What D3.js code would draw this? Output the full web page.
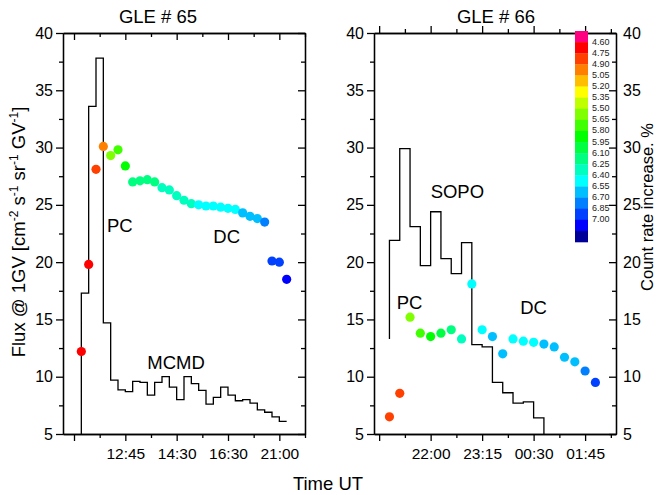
<!DOCTYPE html>
<html>
<head>
<meta charset="utf-8">
<script src="https://cdn.jsdelivr.net/npm/d3@7"></script>
<style>
body { margin: 0; background: #fff; }
svg text { font-family: "Liberation Sans", Arial, sans-serif; }
</style>
</head>
<body>
<div id="chart-area"></div>
<script>
// GLE 65 - points (flux @ 1GV) and MCMD histogram
const gle65Flux = [12.2, 19.8, 28.1, 30.1, 29.3, 29.8, 28.4, 27.0, 27.1, 27.2, 27.0, 26.5, 26.3, 25.8, 25.4,
  25.1, 25.0, 24.9, 24.9, 24.8, 24.7, 24.6, 24.3, 24.0, 23.8, 23.5, 20.1, 20.0, 18.5];
const gle65Rate = [4.7, 4.7, 4.8, 5.0, 5.6, 5.7, 5.9, 6.2, 6.2, 6.2, 6.2, 6.3, 6.3, 6.3, 6.3,
  6.3, 6.5, 6.5, 6.5, 6.5, 6.5, 6.5, 6.6, 6.6, 6.6, 6.8, 6.9, 6.9, 7.1];
const gle65Mcmd = [17.3, 33.6, 37.8, 14.7, 9.7, 8.85, 8.7, 9.6, 9.5, 8.4, 9.5, 10.0, 9.1, 8.0, 10.0,
  9.4, 8.8, 7.6, 8.2, 9.1, 8.4, 7.9, 8.0, 7.7, 7.1, 6.9, 6.5, 6.1];
const gle65Ticks = [-1, 6, 13, 20, 27];
const gle65TickLabels = ["", "12:45", "14:30", "16:30", "21:00"];

// GLE 66 - points and SOPO histogram
const gle66Flux = [6.5, 8.55, 15.2, 13.8, 13.5, 13.8, 14.1, 13.3, 18.1, 14.1, 13.5, 12.0, 13.3, 13.1,
  13.0, 12.85, 12.6, 11.7, 11.3, 10.5, 9.5];
const gle66Rate = [4.8, 4.8, 5.6, 5.7, 5.9, 6.0, 6.2, 6.3, 6.5, 6.5, 6.6, 6.6, 6.5, 6.5,
  6.5, 6.6, 6.6, 6.6, 6.6, 6.75, 6.9];
const gle66SopoStart = 13.3;
const gle66Sopo = [21.9, 29.9, 23.1, 19.7, 24.4, 20.3, 19.0, 21.7, 12.8, 12.6, 9.5, 8.6, 7.7, 7.8, 6.4];
const gle66Ticks = [-1, 4, 9, 14, 19];
const gle66TickLabels = ["", "22:00", "23:15", "00:30", "01:45"];

const yTicks = [5, 10, 15, 20, 25, 30, 35, 40];

// colour scale of count rate increase
const rateBreaks = [4.60, 4.75, 4.90, 5.05, 5.20, 5.35, 5.50, 5.65, 5.80, 5.95, 6.10, 6.25, 6.40,
  6.55, 6.70, 6.85, 7.00, 7.15];
const rateColors = ["#ff0080", "#ff0000", "#ff4000", "#ff8000", "#ffbf00", "#ffff00", "#bfff00", "#80ff00",
  "#40ff00", "#00ff00", "#00ff40", "#00ff80", "#00ffbf", "#00ffff", "#00bfff", "#0080ff", "#0040ff",
  "#0000ff", "#000099"];
const rateLabels = rateBreaks.slice(0, 17);

const width = 657, height = 495;
const yTop = 33, yBot = 434;

const svg = d3.select("#chart-area")
  .append("svg")
  .attr("width", width)
  .attr("height", height);

const y = d3.scaleLinear().domain([5, 40]).range([yBot, yTop]);
const colour = d3.scaleThreshold().domain(rateBreaks).range(rateColors);
const yMinor = yTicks.slice(0, -1).map(d => d + 2.5);

function styleAxis(sel, fs) {
  sel.selectAll("path, line").attr("stroke", "#000").attr("stroke-width", 1.3);
  sel.selectAll("text").attr("font-size", fs).attr("fill", "#000");
}

function panel(cfg) {
  const x = d3.scaleLinear().domain(cfg.domain).range([cfg.left, cfg.right]);
  const g = svg.append("g");
  const minor = cfg.ticks.map(d => d + cfg.step / 2);

  // histogram (step line)
  const line = d3.line().x(d => x(d.i)).y(d => y(d.v)).curve(d3.curveStepAfter);
  g.append("path")
    .attr("fill", "none")
    .attr("stroke", "#000")
    .attr("stroke-width", 1.3)
    .attr("d", line(cfg.steps));

  // points
  g.selectAll("circle")
    .data(cfg.flux)
    .enter()
    .append("circle")
    .attr("cx", (d, i) => x(i))
    .attr("cy", d => y(d))
    .attr("r", 4.6)
    .attr("fill", (d, i) => colour(cfg.rate[i]));

  // bottom axis
  g.append("g").attr("transform", "translate(0," + yBot + ")")
    .call(d3.axisBottom(x).tickValues(cfg.ticks).tickFormat((d, i) => cfg.labels[i])
      .tickSize(7).tickPadding(7).tickSizeOuter(0))
    .call(styleAxis, 15.5);
  g.append("g").attr("transform", "translate(0," + yBot + ")")
    .call(d3.axisBottom(x).tickValues(minor).tickFormat("").tickSize(4).tickSizeOuter(0))
    .call(styleAxis, 15.5);

  // top axis
  const dir = cfg.topOut ? 1 : -1;
  g.append("g").attr("transform", "translate(0," + yTop + ")")
    .call(d3.axisTop(x).tickValues(cfg.ticks).tickFormat("").tickSize(7 * dir).tickSizeOuter(0))
    .call(styleAxis, 15.5);
  g.append("g").attr("transform", "translate(0," + yTop + ")")
    .call(d3.axisTop(x).tickValues(minor).tickFormat("").tickSize(4 * dir).tickSizeOuter(0))
    .call(styleAxis, 15.5);

  // left axis
  g.append("g").attr("transform", "translate(" + cfg.left + ",0)")
    .call(d3.axisLeft(y).tickValues(yTicks).tickSize(7).tickPadding(3).tickSizeOuter(0))
    .call(styleAxis, 16);
  g.append("g").attr("transform", "translate(" + cfg.left + ",0)")
    .call(d3.axisLeft(y).tickValues(yMinor).tickFormat("").tickSize(4).tickSizeOuter(0))
    .call(styleAxis, 16);

  // right axis (ticks inward)
  g.append("g").attr("transform", "translate(" + cfg.right + ",0)")
    .call(d3.axisRight(y).tickValues(yTicks).tickFormat(cfg.rightLabels ? d3.format("d") : "")
      .tickSize(-7).tickPadding(7).tickSizeOuter(0))
    .call(styleAxis, 16);
  g.append("g").attr("transform", "translate(" + cfg.right + ",0)")
    .call(d3.axisRight(y).tickValues(yMinor).tickFormat("").tickSize(-4).tickSizeOuter(0))
    .call(styleAxis, 16);

  g.append("text")
    .attr("x", cfg.titleX)
    .attr("y", 23)
    .attr("text-anchor", "middle")
    .attr("font-size", 18.5)
    .text(cfg.title);

  cfg.notes.forEach(n => {
    g.append("text")
      .attr("x", x(n.i))
      .attr("y", y(n.v))
      .attr("font-size", 18.5)
      .text(n.text);
  });
}

panel({
  left: 63, right: 305, domain: [-2.5, 30.5], step: 7,
  ticks: gle65Ticks, labels: gle65TickLabels,
  flux: gle65Flux, rate: gle65Rate,
  steps: [{i: 0, v: 5}].concat(gle65Mcmd.map((v, i) => ({i, v})), [{i: gle65Mcmd.length, v: gle65Mcmd[gle65Mcmd.length - 1]}]),
  topOut: false, rightLabels: false,
  title: "GLE # 65", titleX: 158,
  notes: [{text: "PC", i: 3.5, v: 22.6}, {text: "DC", i: 18.0, v: 21.7}, {text: "MCMD", i: 9.0, v: 10.7}]
});

panel({
  left: 374, right: 616, domain: [-1.5, 22], step: 5,
  ticks: gle66Ticks, labels: gle66TickLabels,
  flux: gle66Flux, rate: gle66Rate,
  steps: [{i: 0, v: gle66SopoStart}].concat(gle66Sopo.map((v, i) => ({i, v})),
    [{i: gle66Sopo.length, v: gle66Sopo[gle66Sopo.length - 1]}, {i: gle66Sopo.length, v: 5}]),
  topOut: true, rightLabels: true,
  title: "GLE # 66", titleX: 496,
  notes: [{text: "SOPO", i: 4.0, v: 25.6}, {text: "PC", i: 0.7, v: 15.9}, {text: "DC", i: 12.7, v: 15.5}]
});

// colour bar
const cb = svg.append("g");
const cbY = d3.scaleLinear().domain([0, rateColors.length]).range([31, 242]);
cb.selectAll("rect")
  .data(rateColors)
  .enter()
  .append("rect")
  .attr("x", 575)
  .attr("width", 13)
  .attr("y", (d, i) => cbY(i))
  .attr("height", (d, i) => cbY(i + 1) - cbY(i) + 0.3)
  .attr("fill", d => d);
cb.selectAll("text")
  .data(rateLabels)
  .enter()
  .append("text")
  .attr("x", 592)
  .attr("y", (d, i) => cbY(i + 1) + 2.5)
  .attr("font-size", 9)
  .attr("fill", "#222")
  .text(d => d3.format(".2f")(d));

// axis titles
svg.append("text")
  .attr("x", 328)
  .attr("y", 490)
  .attr("text-anchor", "middle")
  .attr("font-size", 18.5)
  .text("Time UT");

const flux = svg.append("text")
  .attr("transform", "translate(25,232) rotate(-90)")
  .attr("text-anchor", "middle")
  .attr("font-size", 18.5);
flux.append("tspan").text("Flux @ 1GV [cm");
flux.append("tspan").attr("font-size", 12).attr("dy", -7).text("-2");
flux.append("tspan").attr("dy", 7).text(" s");
flux.append("tspan").attr("font-size", 12).attr("dy", -7).text("-1");
flux.append("tspan").attr("dy", 7).text(" sr");
flux.append("tspan").attr("font-size", 12).attr("dy", -7).text("-1");
flux.append("tspan").attr("dy", 7).text(" GV");
flux.append("tspan").attr("font-size", 12).attr("dy", -7).text("-1");
flux.append("tspan").attr("dy", 7).text("]");

svg.append("text")
  .attr("transform", "translate(653,207) rotate(-90)")
  .attr("text-anchor", "middle")
  .attr("font-size", 16.5)
  .text("Count rate increase. %");
</script>
</body>
</html>
